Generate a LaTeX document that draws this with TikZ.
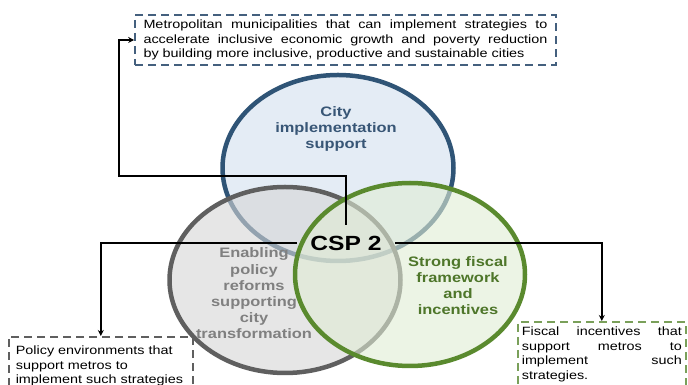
\documentclass[tikz,border=0pt]{standalone}
\usepackage{fontspec}
\setmainfont{Liberation Sans}[FakeStretch=1.2]
\usetikzlibrary{positioning,arrows.meta,shapes.geometric}

\definecolor{ringblue}{RGB}{47,84,118}
\definecolor{fillblue}{RGB}{228,236,245}
\definecolor{ringgray}{RGB}{95,95,95}
\definecolor{fillgray}{RGB}{214,214,214}
\definecolor{ringgreen}{RGB}{90,138,46}
\definecolor{fillgreen}{RGB}{224,236,212}
\definecolor{txtblue}{RGB}{56,86,118}
\definecolor{txtgray}{RGB}{128,128,128}
\definecolor{txtgreen}{RGB}{78,118,42}
\definecolor{dashblue}{RGB}{68,96,126}
\definecolor{dashgreen}{RGB}{122,160,90}

\newcommand\fullline[2]{\leavevmode\hbox to #1{\spaceskip=\fontdimen2\font plus 1fil\relax #2}}

\begin{document}
\begin{tikzpicture}[x=1pt,y=1pt,
    ring/.style={ellipse,line width=4.5pt,inner sep=0pt},
    ringtext/.style={align=center,inner sep=0pt,font=\bfseries\fontsize{13.7}{16.2}\selectfont},
    note/.style={draw,dash pattern=on 8pt off 5pt,line width=1.6pt,align=left,
      font=\fontsize{12}{14.6}\selectfont},
    link/.style={line width=1.4pt,-{Stealth[length=6pt,width=6pt]}}]
    \useasboundingbox (0,0) rectangle (688,385);
    \clip (0,0) rectangle (688,385);

    \node[ring,draw=ringblue,fill=fillblue,minimum width=231pt,minimum height=186pt] (cityring) at (338,217) {};
    \node[ring,draw=ringgray,fill=fillgray,fill opacity=0.6,minimum width=231pt,minimum height=186pt] (policyring) at (285,105) {};
    \node[ring,draw=ringgreen,fill=fillgreen,fill opacity=0.6,minimum width=230pt,minimum height=183pt] (fiscalring) at (410,110.5) {};

    \node[ringtext,text=txtblue] (citytext) at (336,256) {City\\implementation\\support};
    \node[ringtext,text=txtgray] (policytext) at (254,91.5) {Enabling\\policy\\reforms\\supporting\\city\\transformation};
    \node[ringtext,text=txtgreen] (fiscaltext) at (458,99.5) {Strong fiscal\\framework\\and\\incentives};

    \node[font=\bfseries\fontsize{20.5}{24}\selectfont,minimum width=98pt,minimum height=36pt,inner sep=0pt] (csp) at (346,142) {CSP 2};

    \node[note,draw=dashblue,text width=404pt,inner xsep=8.5pt,minimum height=50pt] (topnote) at (345.5,345)
      {\fullline{404pt}{Metropolitan municipalities that can implement strategies to}\\
       \fullline{404pt}{accelerate inclusive economic growth and poverty reduction}\\
       by building more inclusive, productive and sustainable cities};
    \node[note,draw=ringgray,text width=170pt,inner xsep=7pt,inner ysep=9pt,anchor=north west] (leftnote) at (8,49)
      {Policy environments that\\support metros to\\implement such strategies};
    \node[note,draw=dashgreen,text width=160pt,inner xsep=4pt,inner ysep=5pt,anchor=north west] (rightnote) at (517,64)
      {\fullline{160pt}{Fiscal incentives that}\\
       \fullline{160pt}{support metros to}\\
       \fullline{160pt}{implement such}\\
       strategies.};

    \coordinate (bend) at (119,209);
    \draw[link] (csp.north) |- (bend) |- (topnote.west);
    \draw[link] (csp.west) -| (leftnote.north);
    \draw[link] (csp.east) -| (rightnote.north);
\end{tikzpicture}
\end{document}
